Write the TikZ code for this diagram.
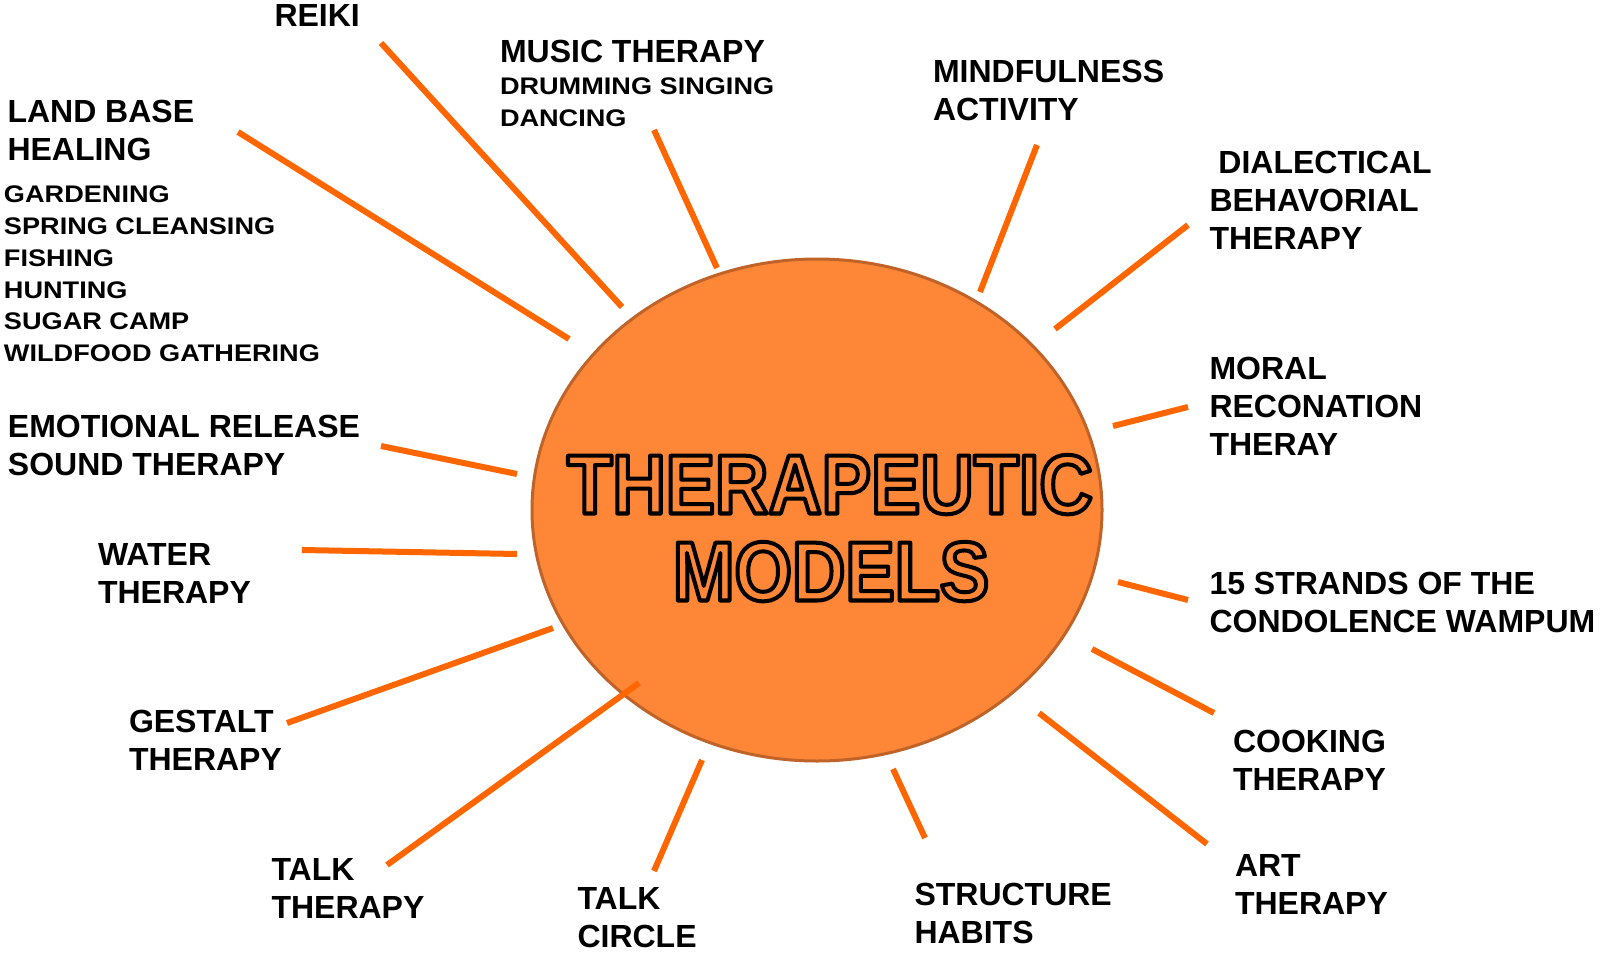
\documentclass[tikz,border=0pt]{standalone}
\usepackage{fontspec}
\usetikzlibrary{shapes.geometric}
\setmainfont{Liberation Sans}
\newfontfamily\subfont{Liberation Sans}[FakeStretch=1.13]
\newfontfamily\titlefont{Liberation Sans}[FakeStretch=0.88]
\newcommand\outlinedtext[1]{\special{pdf:code 1 Tr 4 w 1 j 1 J}#1\special{pdf:code 0 Tr}}
\definecolor{spokeC}{HTML}{FF6600}
\definecolor{ballfill}{HTML}{FD8637}
\definecolor{balledge}{HTML}{BF6329}
\tikzset{
  spoke/.style={draw=spokeC, line width=6pt},
  lbl/.style={anchor=north west, inner sep=0pt, outer sep=0pt, align=left,
    font=\bfseries\fontsize{32}{38}\selectfont},
  sublbl/.style={anchor=north west, inner sep=0pt, outer sep=0pt, align=left,
    font=\subfont\bfseries\fontsize{24}{31.8}\selectfont},
  ttl/.style={anchor=base, inner sep=0pt, outer sep=0pt, text=black,
    font=\titlefont\bfseries\fontsize{84}{90}\selectfont},
}
\begin{document}
\begin{tikzpicture}[x=1pt,y=-1pt]
\useasboundingbox (0,0) rectangle (1606,955);
% central ellipse
\node[draw=balledge, line width=3pt, fill=ballfill, ellipse, minimum width=570pt, minimum height=502pt, inner sep=0pt] (ball) at (817,510) {};
% outlined title
\node[ttl] (title1) at (830,513.5) {\outlinedtext{THERAPEUTIC}};
\node[ttl] (title2) at (831,600.5) {\outlinedtext{MODELS}};
% labels
\node[lbl] (reiki) at (274.5,4.5) {REIKI};
\node[lbl] (music) at (500,40.5) {MUSIC THERAPY};
\node[sublbl] (musicsub) at (500,77.5) {DRUMMING SINGING\\DANCING};
\node[lbl] (mind) at (933,60) {MINDFULNESS\\ACTIVITY};
\node[lbl] (land) at (7.5,100.5) {LAND BASE\\HEALING};
\node[sublbl] (landsub) at (4,186) {GARDENING\\SPRING CLEANSING\\FISHING\\HUNTING\\SUGAR CAMP\\WILDFOOD GATHERING};
\node[lbl] (dbt) at (1209.5,151) {\ DIALECTICAL\\BEHAVORIAL\\THERAPY};
\node[lbl] (moral) at (1209.5,357) {MORAL\\RECONATION\\THERAY};
\node[lbl] (strands) at (1209.5,572) {15 STRANDS OF THE\\CONDOLENCE WAMPUM};
\node[lbl] (cook) at (1233,730) {COOKING\\THERAPY};
\node[lbl] (art) at (1235,854) {ART\\THERAPY};
\node[lbl] (struct) at (914.5,883) {STRUCTURE\\HABITS};
\node[lbl] (circle) at (577.5,887) {TALK\\CIRCLE};
\node[lbl] (talk) at (271.5,858) {TALK\\THERAPY};
\node[lbl] (gestalt) at (129,710.5) {GESTALT\\THERAPY};
\node[lbl] (water) at (98,543) {WATER\\THERAPY};
\node[lbl] (emo) at (8,415) {EMOTIONAL RELEASE\\SOUND THERAPY};
% spoke end points
\coordinate (reikiA) at (381,43);   \coordinate (reikiB) at (622,307);
\coordinate (landA) at (238,132);   \coordinate (landB) at (569,339);
\coordinate (musicA) at (654,130);  \coordinate (musicB) at (717,268);
\coordinate (mindA) at (1037,145);  \coordinate (mindB) at (980,292);
\coordinate (dbtA) at (1188,225);   \coordinate (dbtB) at (1055,329);
\coordinate (moralA) at (1188,407); \coordinate (moralB) at (1113,426);
\coordinate (strA) at (1188,600);   \coordinate (strB) at (1118,582);
\coordinate (cookA) at (1214,713);  \coordinate (cookB) at (1092,649);
\coordinate (artA) at (1207,844);   \coordinate (artB) at (1039,713);
\coordinate (structA) at (925,838); \coordinate (structB) at (893,769);
\coordinate (circA) at (654,871);   \coordinate (circB) at (702,760);
\coordinate (talkA) at (387,865);   \coordinate (talkB) at (639,683);
\coordinate (gestA) at (287,723);   \coordinate (gestB) at (553,628);
\coordinate (waterA) at (302,550);  \coordinate (waterB) at (517,554);
\coordinate (emoA) at (381,446);    \coordinate (emoB) at (517,474);
\foreach \s in {reiki,land,music,mind,dbt,moral,str,cook,art,struct,circ,talk,gest,water,emo}{
  \draw[spoke] (\s A) -- (\s B);
}
\end{tikzpicture}
\end{document}
